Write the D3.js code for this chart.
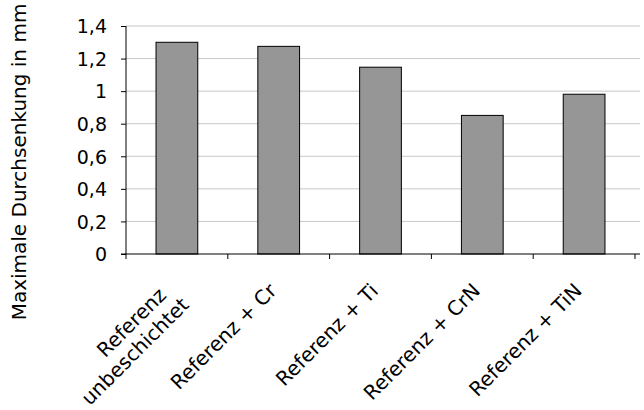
<!DOCTYPE html>
<html><head><meta charset="utf-8">
<script src="https://cdn.jsdelivr.net/npm/d3@7"></script>
<style>body{margin:0;background:#fff}svg{display:block}</style>
</head><body>
<script>
const categories = [["Referenz","unbeschichtet"],["Referenz + Cr"],["Referenz + Ti"],["Referenz + CrN"],["Referenz + TiN"]];
const values = [1.30, 1.275, 1.147, 0.851, 0.981];
const yTicks = [0,0.2,0.4,0.6,0.8,1,1.2,1.4];
const yLabel = "Maximale Durchsenkung in mm";

const W=644,H=410;
const m={l:126,t:26,r:9,b:156};
const font="'DejaVu Sans', Verdana, sans-serif";
const svg=d3.select("body").append("svg").attr("width",W).attr("height",H);
const x=d3.scaleBand().domain(d3.range(categories.length)).range([m.l,W-m.r]).paddingInner(0).paddingOuter(0);
const y=d3.scaleLinear().domain([0,1.4]).range([H-m.b,m.t]);

// gridlines
svg.append("g").selectAll("line").data(yTicks.filter(d=>d>0)).join("line")
  .attr("x1",m.l).attr("x2",W-4).attr("y1",d=>y(d)).attr("y2",d=>y(d))
  .attr("stroke","#c8c8c8").attr("stroke-width",1);

// bars
const bw=x.bandwidth()*0.41;
svg.append("g").selectAll("rect").data(values).join("rect")
  .attr("x",(d,i)=>x(i)+x.bandwidth()/2-bw/2).attr("width",bw)
  .attr("y",d=>y(d)).attr("height",d=>y(0)-y(d))
  .attr("fill","#969696").attr("stroke","#000").attr("stroke-width",1);

// y axis
const ya=svg.append("g").attr("transform",`translate(${m.l},0)`)
  .call(d3.axisLeft(y).tickValues(yTicks).tickSize(5).tickPadding(14).tickFormat(d=>String(d).replace(".",",")));
ya.select(".domain").attr("stroke","#000").attr("d",`M0,${y(0)}V${y(1.4)}`);
ya.selectAll(".tick line").attr("stroke","#000");
ya.selectAll("text").attr("font-family",font).attr("font-size",19).attr("fill","#000").attr("dy","0.36em");

// x axis
const xa=svg.append("g").attr("transform",`translate(0,${y(0)})`);
xa.append("line").attr("x1",m.l-5).attr("x2",W-4).attr("stroke","#000");
const bounds=d3.range(categories.length+1).map(i=>m.l+i*x.bandwidth());
xa.selectAll("line.t").data(bounds).join("line").attr("class","t")
  .attr("x1",d=>d).attr("x2",d=>d).attr("y1",0).attr("y2",5).attr("stroke","#000");

// x labels
const lab=svg.append("g").attr("font-family",font).attr("font-size",20);
categories.forEach((lines,i)=>{
  const cx=x(i)+x.bandwidth()/2;
  const t=lab.append("text").attr("transform",`translate(${cx-1},${y(0)+38}) rotate(-45)`).attr("text-anchor","end");
  lines.forEach((s,j)=>{
    t.append("tspan").attr("x", lines.length>1 ? (j===0? -9: 0) : 0).attr("y",(j-(lines.length-1))*23 + (lines.length>1?20:0)).text(s);
  });
});

// y label
svg.append("text").attr("transform",`translate(26,${162}) rotate(-90)`)
  .attr("text-anchor","middle").attr("font-family",font).attr("font-size",20).text(yLabel);
</script>
</body></html>
